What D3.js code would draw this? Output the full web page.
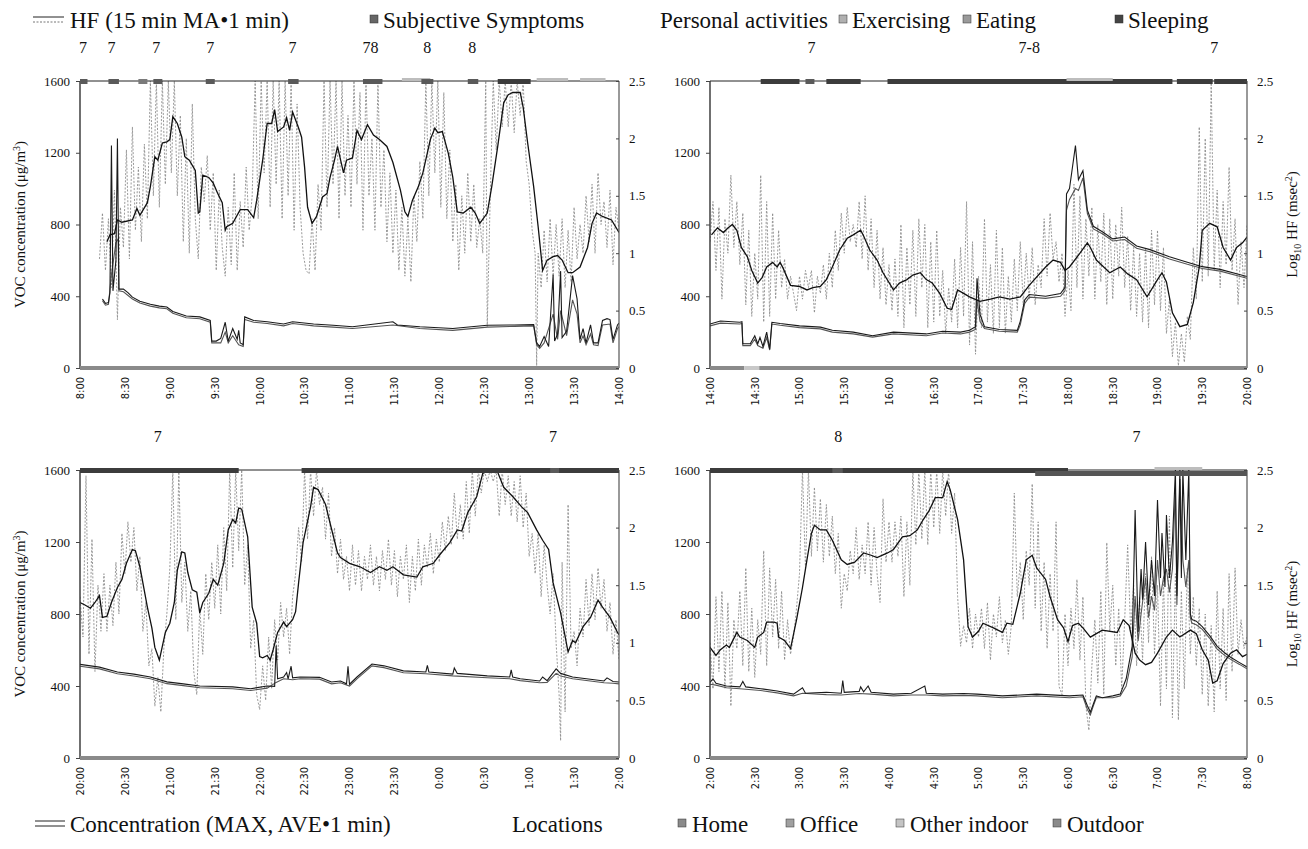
<!DOCTYPE html>
<html>
<head>
<meta charset="utf-8">
<script src="https://cdn.jsdelivr.net/npm/d3@7"></script>
<style>
  body { margin: 0; background: #fff; }
  svg { display: block; }
  text { font-family: "Liberation Serif", "Times New Roman", serif; fill: #111; }
  .xt { font-family: "DejaVu Sans Condensed", "DejaVu Sans", sans-serif; font-size: 11px; }
</style>
</head>
<body>
<div id="chart"></div>
<script>
// ---- tick labels ----
const ticks_p1 = ['8:00','8:30','9:00','9:30','10:00','10:30','11:00','11:30','12:00','12:30','13:00','13:30','14:00']
const ticks_p2 = ['14:00','14:30','15:00','15:30','16:00','16:30','17:00','17:30','18:00','18:30','19:00','19:30','20:00']
const ticks_p3 = ['20:00','20:30','21:00','21:30','22:00','22:30','23:00','23:30','0:00','0:30','1:00','1:30','2:00']
const ticks_p4 = ['2:00','2:30','3:00','3:30','4:00','4:30','5:00','5:30','6:00','6:30','7:00','7:30','8:00']
const concTicks = [0, 400, 800, 1200, 1600]
const hfTicks = [0, 0.5, 1, 1.5, 2, 2.5]

// ---- panel 1 (8:00-14:00), time = minutes from panel start ----
const hfMA_p1 = [[18,1.10],[20,1.16],[23,1.17],[25,1.29],[28,1.27],[35,1.29],[38,1.39],[40,1.33],[45,1.44],[47,1.58],[50,1.84],[52,1.81],[55,1.96],[58,1.97],[60,1.99],[62,2.19],[65,2.13],[68,2.01],[70,1.84],[73,1.81],[77,1.72],[79,1.35],[80,1.36],[82,1.68],[86,1.66],[89,1.61],[92,1.52],[95,1.44],[97,1.20],[98,1.23],[102,1.26],[107,1.38],[112,1.38],[116,1.31],[118,1.46],[122,1.81],[125,2.13],[128,2.13],[130,2.25],[132,2.06],[136,2.10],[138,2.18],[140,2.07],[142,2.23],[146,2.09],[148,2.01],[150,1.75],[152,1.40],[155,1.26],[158,1.32],[162,1.49],[165,1.52],[167,1.66],[170,1.81],[172,1.93],[176,1.70],[178,1.81],[182,1.83],[185,2.07],[188,1.99],[192,2.12],[196,2.03],[200,1.99],[205,1.93],[209,1.79],[214,1.55],[217,1.36],[219,1.32],[222,1.46],[226,1.58],[229,1.70],[234,1.99],[237,2.09],[239,2.05],[242,2.06],[246,1.87],[249,1.66],[252,1.36],[256,1.35],[261,1.40],[264,1.35],[267,1.26],[272,1.35],[275,1.58],[279,1.93],[283,2.31],[286,2.38],[289,2.40],[294,2.40],[296,2.27],[299,1.96],[303,1.58],[306,1.23],[309,0.85],[312,0.94],[316,0.97],[319,0.98],[322,0.94],[326,0.83],[329,0.83],[334,0.88],[339,1.05],[342,1.26],[345,1.35],[349,1.32],[355,1.29],[360,1.18]]
const hf1_p1 = [[13,0.95],[15,1.35],[17,0.85],[19,1.30],[21,0.70],[23,1.55],[25,0.42],[27,1.40],[29,1.05],[31,1.90],[33,0.95],[35,2.10],[37,1.20],[39,1.75],[41,1.10],[43,1.95],[45,1.30],[47,2.50],[49,1.50],[51,2.50],[53,1.40],[55,2.50],[57,1.60],[59,2.50],[61,1.70],[63,2.50],[65,1.50],[67,2.20],[69,1.10],[71,2.00],[73,1.00],[75,2.30],[77,1.30],[79,0.95],[81,1.75],[83,1.45],[85,1.85],[87,1.20],[89,1.70],[91,0.85],[93,1.55],[95,1.05],[97,0.80],[99,1.40],[101,0.90],[103,1.70],[105,0.85],[107,1.45],[109,1.05],[111,1.75],[113,1.20],[115,1.50],[117,2.50],[119,1.30],[121,2.50],[123,1.70],[125,2.50],[127,1.40],[129,2.50],[131,1.60],[133,2.50],[135,1.30],[137,2.50],[139,1.50],[141,2.50],[143,1.20],[145,2.30],[147,1.40],[149,1.00],[151,0.85],[153,0.82],[155,1.30],[157,0.85],[159,1.60],[161,1.20],[163,2.50],[165,1.40],[167,2.50],[169,1.60],[171,2.50],[173,1.30],[175,2.50],[177,1.50],[179,2.20],[181,1.40],[183,2.50],[185,1.60],[187,2.40],[189,1.20],[191,2.50],[193,1.50],[195,2.00],[197,1.20],[199,2.50],[201,1.40],[203,1.90],[205,1.10],[207,1.70],[209,1.00],[211,1.55],[213,0.85],[215,1.40],[217,0.80],[219,1.30],[221,0.75],[223,1.50],[225,1.10],[227,1.80],[229,1.30],[231,2.50],[233,1.50],[235,2.50],[237,1.70],[239,2.50],[241,1.40],[243,2.40],[245,1.30],[247,1.90],[249,1.10],[251,1.60],[253,0.85],[255,1.50],[257,1.00],[259,1.70],[261,1.10],[263,1.60],[265,1.05],[267,1.30],[269,1.00],[271,2.50],[272,0.36],[274,1.50],[276,2.50],[278,1.90],[280,2.50],[282,2.10],[284,2.50],[286,2.10],[288,2.50],[290,2.05],[292,2.50],[294,2.20],[296,2.50],[298,1.80],[300,1.60],[302,1.20],[304,1.00],[305,0.02],[306,1.00],[308,0.70],[310,1.20],[312,0.75],[314,1.30],[316,0.80],[318,1.25],[320,0.80],[322,1.30],[324,0.70],[326,1.20],[328,0.75],[330,1.40],[332,0.95],[334,1.25],[336,1.00],[338,1.50],[340,1.10],[342,1.60],[344,1.00],[346,1.70],[348,1.25],[350,1.45],[352,1.05],[354,1.55],[356,0.90],[358,1.40],[360,1.20]]
const concMax_p1 = [[15,385],[17,360],[19,365],[20,420],[21,1240],[22,430],[24,600],[25,1280],[26,440],[29,440],[32,420],[35,395],[40,372],[47,355],[53,345],[58,340],[62,315],[71,290],[80,285],[87,265],[88,150],[91,150],[94,165],[97,255],[99,150],[102,220],[105,160],[106,210],[107,140],[109,130],[110,285],[116,265],[125,258],[136,245],[142,258],[156,245],[169,238],[182,230],[209,258],[212,240],[227,230],[249,220],[272,238],[290,240],[303,242],[305,140],[307,120],[310,175],[313,120],[316,520],[317,150],[319,190],[321,540],[322,170],[325,205],[329,515],[332,385],[334,160],[336,220],[338,140],[341,240],[343,140],[346,140],[349,265],[352,275],[354,270],[356,160],[359,240],[360,250]]
const concAve_p1 = [[15,375],[17,350],[19,355],[21,520],[24,700],[25.5,720],[26,430],[29,425],[35,385],[40,362],[47,345],[53,335],[58,330],[62,305],[71,280],[80,275],[87,255],[88,140],[94,140],[97,200],[99,140],[102,180],[106,130],[109,120],[110,270],[116,255],[125,248],[136,235],[142,248],[156,235],[169,228],[182,220],[209,240],[227,220],[249,210],[272,228],[290,232],[303,235],[305,130],[307,110],[310,140],[316,300],[319,160],[321,320],[325,180],[329,380],[332,300],[334,140],[336,180],[338,130],[341,190],[343,130],[346,125],[349,240],[354,245],[356,140],[359,220],[360,230]]
const acts_p1 = [[0,5,'symptom'],[19,26,'symptom'],[39,45,'eating'],[49,55,'symptom'],[84,90,'symptom'],[139,146,'symptom'],[189,202,'symptom'],[215,234,'exercise'],[228,236,'symptom'],[259,266,'symptom'],[279,301,'sleep'],[305,326,'exercise'],[334,351,'exercise']]
const sym_p1 = [[2,'7'],[21,'7'],[51,'7'],[87,'7'],[142,'7'],[194,'78'],[232,'8'],[262,'8']]
const loc_p1 = [[0,360,'home']]

// ---- panel 2 (14:00-20:00) ----
const hfMA_p2 = [[1,1.16],[5,1.22],[9,1.18],[12,1.22],[15,1.25],[18,1.20],[21,1.05],[25,0.97],[28,0.85],[32,0.74],[35,0.79],[38,0.88],[42,0.92],[45,0.88],[47,0.92],[49,0.87],[54,0.72],[60,0.71],[65,0.68],[69,0.70],[74,0.71],[78,0.77],[82,0.88],[87,1.03],[92,1.13],[96,1.16],[101,1.20],[103,1.15],[107,1.03],[112,0.94],[116,0.83],[123,0.68],[127,0.74],[132,0.77],[136,0.81],[141,0.83],[145,0.77],[149,0.74],[154,0.65],[159,0.52],[162,0.51],[166,0.68],[170,0.65],[174,0.62],[181,0.58],[188,0.60],[194,0.62],[201,0.60],[208,0.62],[214,0.72],[225,0.88],[230,0.94],[235,0.92],[238,0.85],[241,0.88],[248,1.00],[253,1.09],[255,1.05],[259,0.94],[268,0.83],[275,0.88],[280,0.82],[286,0.77],[293,0.62],[300,0.77],[303,0.83],[306,0.75],[310,0.48],[315,0.36],[320,0.38],[324,0.57],[328,0.88],[330,1.20],[335,1.26],[340,1.23],[344,1.05],[349,0.94],[353,1.05],[357,1.09],[360,1.14]]
const hf1_p2 = [[0,1.10],[2,1.45],[4,0.85],[6,1.40],[8,0.60],[10,1.30],[12,1.00],[14,1.68],[16,1.05],[18,1.45],[20,0.90],[22,1.35],[24,0.55],[26,1.20],[28,0.45],[30,1.00],[32,0.60],[34,1.68],[36,0.40],[38,1.45],[40,0.45],[42,1.35],[44,0.60],[46,1.20],[48,0.70],[50,0.95],[52,0.60],[54,0.80],[56,0.65],[58,0.50],[60,0.80],[62,0.60],[64,0.85],[66,0.70],[68,0.85],[70,0.48],[72,0.80],[74,0.65],[76,0.90],[78,0.60],[80,1.00],[82,0.70],[84,1.20],[86,0.85],[88,1.35],[90,1.00],[92,1.40],[94,1.10],[96,1.25],[98,1.05],[100,1.45],[102,0.95],[104,1.50],[106,0.85],[108,1.30],[110,0.70],[112,1.20],[114,0.60],[116,1.05],[118,0.55],[120,0.90],[122,0.50],[124,0.95],[126,0.45],[128,1.25],[130,0.35],[132,1.05],[134,0.55],[136,1.20],[138,0.45],[140,1.30],[142,0.70],[144,1.25],[146,0.35],[148,1.10],[150,0.40],[152,1.20],[154,0.45],[156,0.85],[158,0.30],[160,0.70],[162,0.40],[164,0.95],[166,0.35],[168,1.05],[170,0.45],[172,1.45],[174,0.20],[176,1.10],[178,0.12],[180,0.80],[182,0.35],[184,1.30],[186,0.40],[188,0.90],[190,0.30],[192,1.20],[194,0.35],[196,1.05],[198,0.30],[200,0.80],[202,0.40],[204,0.95],[206,0.50],[208,1.10],[210,0.55],[212,1.00],[214,0.60],[216,1.05],[218,0.55],[220,0.90],[222,0.70],[224,1.30],[226,0.80],[228,1.35],[230,0.95],[232,1.10],[234,0.75],[236,1.00],[238,0.45],[240,0.85],[242,0.50],[244,1.60],[246,0.70],[248,1.50],[250,0.60],[252,1.30],[254,0.80],[256,1.40],[258,0.60],[260,1.25],[262,0.75],[264,1.35],[266,0.55],[268,1.30],[270,0.60],[272,1.25],[274,0.80],[276,1.40],[278,0.70],[280,1.15],[282,0.50],[284,1.05],[286,0.45],[288,1.00],[290,0.40],[292,1.05],[294,0.35],[296,1.20],[298,0.55],[300,1.20],[302,0.50],[304,1.05],[306,0.30],[308,0.60],[310,0.10],[312,0.40],[314,0.02],[316,0.30],[318,0.05],[320,0.45],[322,0.25],[324,1.05],[326,0.60],[328,2.10],[330,0.75],[332,2.00],[334,0.80],[336,2.50],[338,0.85],[340,1.55],[342,0.70],[344,1.45],[346,0.90],[348,1.75],[350,0.85],[352,1.30],[354,0.55],[356,1.10],[358,0.70],[360,1.25]]
const concMax_p2 = [[0,245],[7,262],[20,255],[21.4,258],[22,135],[27,135],[30,180],[32,135],[33.5,170],[35.5,120],[38,200],[40,105],[41.5,255],[47,248],[60,235],[74,228],[82,210],[96,200],[109,180],[123,200],[145,190],[156,205],[168,200],[174,210],[178,230],[179,500],[181,300],[184,230],[194,215],[206,210],[208,260],[211,380],[214,410],[225,400],[235,415],[238,450],[239,970],[241,1000],[245,1240],[247,1050],[250,1100],[253,880],[257,790],[263,760],[270,720],[278,730],[286,680],[295,660],[308,620],[320,590],[330,565],[342,550],[360,510]]
const concAve_p2 = [[0,235],[7,250],[20,245],[21.4,248],[22,125],[27,125],[30,160],[32,125],[35.5,110],[38,170],[40,100],[41.5,245],[47,238],[60,225],[74,218],[82,200],[96,190],[109,172],[123,190],[145,180],[156,195],[168,190],[174,200],[178,215],[179,380],[181,260],[184,220],[194,205],[206,200],[208,240],[211,360],[214,395],[225,388],[235,400],[238,430],[239,880],[241,940],[245,1000],[247,990],[250,1060],[253,860],[257,775],[263,748],[270,708],[278,716],[286,668],[295,648],[308,608],[320,578],[330,555],[342,540],[360,500]]
const acts_p2 = [[34,60,'sleep'],[64,70,'symptom'],[78,101,'sleep'],[119,310,'sleep'],[313,337,'sleep'],[338,360,'sleep'],[239,270,'exercise']]
const sym_p2 = [[68,'7'],[214,'7-8'],[338,'7']]
const loc_p2 = [[0,23,'home'],[23,33,'other'],[33,360,'home']]

// ---- panel 3 (20:00-2:00) ----
const hfMA_p3 = [[0,1.35],[3,1.33],[7,1.30],[10,1.35],[13,1.41],[15,1.22],[18,1.23],[21,1.35],[25,1.48],[28,1.55],[31,1.69],[35,1.81],[37,1.80],[40,1.66],[42,1.52],[45,1.31],[48,1.13],[50,0.96],[53,0.85],[57,1.09],[60,1.17],[63,1.35],[65,1.63],[68,1.79],[70,1.78],[72,1.61],[75,1.46],[78,1.44],[80,1.26],[82,1.35],[86,1.43],[89,1.55],[92,1.50],[96,1.69],[99,1.98],[102,2.07],[104,2.04],[106,2.17],[108,2.16],[112,1.92],[115,1.31],[118,1.17],[120,0.88],[122,0.87],[125,0.89],[127,0.85],[129,0.94],[132,1.09],[136,1.18],[138,1.14],[142,1.20],[144,1.27],[146,1.52],[149,1.87],[154,2.18],[156,2.35],[159,2.33],[164,2.20],[167,2.04],[172,1.78],[174,1.74],[180,1.69],[187,1.66],[194,1.61],[200,1.66],[205,1.63],[209,1.66],[216,1.59],[225,1.57],[229,1.66],[236,1.69],[240,1.76],[247,1.87],[252,1.98],[255,1.97],[259,2.13],[265,2.27],[269,2.47],[272,2.49],[279,2.48],[283,2.35],[289,2.27],[295,2.18],[299,2.13],[305,1.98],[309,1.89],[313,1.81],[316,1.52],[321,1.26],[326,0.92],[329,1.02],[331,1.00],[336,1.14],[341,1.22],[346,1.37],[349,1.31],[354,1.22],[359,1.09],[360,1.07]]
const hf1_p3 = [[0,1.40],[2,1.05],[4,2.45],[6,0.90],[8,1.90],[10,0.75],[12,1.50],[14,1.10],[16,1.60],[18,1.10],[20,1.50],[22,1.15],[24,1.70],[26,1.25],[28,1.95],[30,1.60],[32,2.05],[34,1.70],[36,2.00],[38,1.45],[40,1.75],[42,1.10],[44,1.35],[46,0.80],[48,0.95],[50,0.45],[52,0.70],[54,0.40],[56,0.95],[58,1.25],[60,1.65],[62,2.50],[64,1.20],[66,2.50],[68,1.35],[70,1.70],[72,1.10],[74,1.45],[76,0.75],[78,0.55],[80,1.30],[82,0.90],[84,1.60],[86,1.20],[88,1.70],[90,1.30],[92,1.85],[94,1.25],[96,2.00],[98,1.45],[100,2.50],[102,1.65],[104,2.50],[106,1.80],[108,2.50],[110,1.50],[112,1.85],[114,0.95],[116,1.20],[118,0.55],[120,0.42],[122,0.80],[124,0.50],[126,1.05],[128,0.60],[130,1.20],[132,0.85],[134,1.35],[136,1.05],[138,1.30],[140,0.90],[142,1.40],[144,1.60],[146,2.00],[148,1.70],[150,2.50],[152,1.90],[154,2.50],[156,2.10],[158,2.50],[160,2.20],[162,2.35],[164,1.90],[166,2.30],[168,1.75],[170,2.00],[172,1.60],[174,1.90],[176,1.55],[178,1.75],[180,1.45],[182,1.85],[184,1.50],[186,1.80],[188,1.45],[190,1.75],[192,1.55],[194,1.85],[196,1.50],[198,1.75],[200,1.45],[202,1.80],[204,1.55],[206,1.90],[208,1.50],[210,1.80],[212,1.40],[214,1.75],[216,1.55],[218,1.85],[220,1.35],[222,1.75],[224,1.45],[226,1.90],[228,1.50],[230,1.85],[232,1.65],[234,1.95],[236,1.60],[238,1.90],[240,1.70],[242,2.05],[244,1.80],[246,2.10],[248,1.85],[250,2.30],[252,1.90],[254,2.20],[256,1.90],[258,2.40],[260,1.95],[262,2.50],[264,2.10],[266,2.50],[268,2.30],[270,2.50],[272,2.40],[274,2.50],[276,2.40],[278,2.50],[280,2.10],[282,2.50],[284,2.20],[286,2.45],[288,2.10],[290,2.40],[292,2.05],[294,2.45],[296,2.00],[298,2.30],[300,1.75],[302,1.95],[304,1.60],[306,1.95],[308,1.40],[310,1.85],[312,1.50],[314,1.25],[316,1.60],[318,1.00],[320,0.55],[321,0.15],[322,1.70],[324,0.40],[326,2.20],[328,0.95],[330,1.10],[332,0.80],[334,1.30],[336,1.05],[338,1.55],[340,1.15],[342,1.60],[344,1.20],[346,1.65],[348,1.30],[350,1.55],[352,1.10],[354,1.35],[356,0.90],[358,1.20],[360,0.85]]
const concMax_p3 = [[0,520],[13,505],[25,478],[36,466],[47,450],[58,423],[69,412],[80,400],[102,395],[114,385],[125,400],[130,398],[131,625],[132,440],[136,450],[138,475],[139,440],[141,510],[142,445],[147,450],[160,448],[168,422],[174,428],[178,412],[179,510],[180,410],[185,450],[195,522],[203,512],[216,484],[231,478],[232,515],[233,478],[249,466],[250,500],[252,470],[272,456],[287,450],[288,490],[289,450],[294,440],[307,428],[309,450],[312,430],[318,495],[321,470],[329,450],[350,428],[352,445],[356,425],[360,422]]
const concAve_p3 = [[0,510],[13,495],[25,468],[36,456],[47,440],[58,413],[69,402],[80,390],[102,385],[114,375],[125,388],[131,420],[136,440],[142,435],[147,440],[160,438],[168,412],[174,418],[180,400],[185,440],[195,512],[203,502],[216,474],[231,468],[249,456],[272,446],[287,440],[294,430],[307,418],[312,420],[318,470],[321,455],[329,440],[350,418],[356,415],[360,412]]
const acts_p3 = [[0,106,'sleep'],[148,360,'sleep'],[314,320,'symptom']]
const sym_p3 = [[52,'7'],[316,'7']]
const loc_p3 = [[0,360,'home']]

// ---- panel 4 (2:00-8:00) ----
const hfMA_p4 = [[0,0.96],[4,0.89],[7,0.94],[11,0.98],[13,0.96],[18,1.09],[20,1.05],[25,1.02],[30,0.96],[32,1.05],[36,1.09],[38,1.18],[43,1.18],[45,1.17],[46,1.05],[50,1.02],[54,0.95],[58,1.20],[62,1.48],[65,1.72],[68,1.95],[70,2.02],[74,1.98],[78,1.98],[82,1.89],[88,1.72],[92,1.68],[97,1.70],[103,1.78],[108,1.76],[112,1.74],[119,1.78],[123,1.81],[129,1.92],[134,1.93],[139,1.98],[143,2.07],[147,2.15],[151,2.26],[156,2.26],[159,2.40],[161,2.33],[166,2.07],[170,1.72],[173,1.14],[176,1.05],[180,1.10],[183,1.17],[190,1.13],[196,1.09],[199,1.17],[203,1.16],[208,1.43],[212,1.72],[216,1.76],[219,1.65],[225,1.55],[228,1.40],[233,1.20],[237,1.13],[240,1.01],[243,1.15],[247,1.17],[250,1.13],[255,1.05],[259,1.08],[263,1.11],[273,1.09],[277,1.20],[281,1.15],[285,0.91],[288,0.85],[292,0.81],[296,0.83],[300,0.91],[306,1.05],[310,1.11],[315,1.05],[322,1.11],[326,1.08],[330,0.94],[334,0.85],[337,0.65],[340,0.67],[344,0.82],[349,0.91],[353,0.94],[357,0.88],[360,0.90]]
const hf1_p4 = [[0,1.00],[2,0.60],[4,1.40],[6,0.75],[8,1.45],[10,0.60],[12,1.35],[14,0.45],[16,1.20],[18,0.95],[20,1.45],[22,0.80],[24,1.65],[26,0.75],[28,1.30],[30,0.70],[32,1.20],[34,0.90],[36,1.80],[38,0.80],[40,1.65],[42,1.05],[44,1.55],[46,0.95],[48,1.45],[50,0.85],[52,1.20],[54,0.90],[56,1.05],[58,1.30],[60,1.60],[62,2.50],[64,1.65],[66,2.50],[68,1.75],[70,2.35],[72,1.80],[74,2.25],[76,1.70],[78,2.20],[80,1.75],[82,2.10],[84,1.60],[86,1.95],[88,1.30],[90,1.60],[92,1.45],[94,1.80],[96,1.60],[98,2.00],[100,1.55],[102,1.85],[104,1.60],[106,2.05],[108,1.50],[110,2.00],[112,1.60],[114,1.35],[116,2.25],[118,1.70],[120,2.05],[122,1.70],[124,2.05],[126,1.75],[128,2.10],[130,1.40],[132,2.05],[134,1.50],[136,2.50],[138,1.85],[140,2.50],[142,1.90],[144,2.50],[146,1.85],[148,2.50],[150,2.00],[152,2.50],[154,1.95],[156,2.50],[158,2.10],[160,2.50],[162,1.95],[164,2.30],[166,1.40],[168,0.97],[170,1.15],[172,1.00],[174,1.30],[176,0.95],[178,1.25],[180,1.05],[182,1.30],[184,0.95],[186,1.35],[188,0.85],[190,1.25],[192,1.05],[194,1.40],[196,1.00],[198,1.20],[200,0.90],[202,1.15],[204,2.30],[206,1.40],[208,1.70],[210,1.20],[212,1.80],[214,1.50],[216,2.38],[218,1.30],[220,2.05],[222,1.10],[224,1.70],[226,0.95],[228,1.60],[230,1.10],[232,2.05],[234,0.62],[236,0.55],[238,1.25],[240,0.80],[242,1.30],[244,0.95],[246,1.55],[248,0.85],[250,1.40],[252,0.45],[254,0.24],[256,0.80],[258,1.20],[260,0.65],[262,1.45],[264,0.55],[266,1.87],[268,1.10],[270,1.50],[272,0.80],[274,1.30],[276,0.60],[278,1.20],[280,1.85],[282,1.10],[284,1.50],[286,0.80],[288,1.40],[290,0.85],[292,1.60],[294,1.00],[296,1.75],[298,0.90],[300,1.50],[302,0.45],[304,1.55],[306,0.60],[308,2.10],[310,0.35],[312,1.60],[314,0.33],[316,1.45],[318,0.60],[320,1.65],[322,0.90],[324,1.40],[326,0.80],[328,1.30],[330,0.55],[332,1.25],[334,0.45],[336,1.15],[338,0.40],[340,1.45],[342,0.60],[344,1.30],[346,0.50],[348,1.60],[350,0.75],[352,1.65],[354,0.90],[356,1.20],[358,0.95],[360,1.05]]
const concMax_p4 = [[0,420],[2,440],[4,415],[11,400],[20,395],[22,425],[24,395],[34,385],[45,372],[56,355],[62,390],[64,360],[78,365],[88,360],[89,430],[90,365],[100,370],[101,395],[103,368],[106,400],[108,365],[123,355],[135,360],[144,400],[145,360],[156,355],[170,358],[179,355],[196,345],[219,355],[241,345],[250,350],[253,290],[255,255],[257,300],[259,345],[263,335],[270,345],[275,355],[279,440],[283,620],[285,1378],[287,700],[289,1050],[290,880],[292,1200],[294,850],[296,1100],[298,900],[300,1433],[302,1000],[303,1250],[305,950],[306,1350],[308,1000],[310,1200],[312,1600],[313,900],[315,1600],[316,1000],[317,1600],[319,1100],[321,1600],[322,800],[323,770],[326,760],[330,730],[335,680],[340,620],[345,585],[349,560],[355,530],[360,506]]
const concAve_p4 = [[0,410],[4,405],[11,390],[20,385],[34,375],[45,362],[56,345],[62,360],[78,352],[88,350],[100,358],[108,355],[123,345],[135,350],[145,350],[156,345],[170,348],[179,345],[196,335],[219,345],[241,335],[250,340],[253,270],[255,240],[257,290],[259,335],[270,335],[275,345],[279,400],[283,560],[285,900],[287,650],[289,800],[292,1000],[294,780],[296,900],[298,820],[300,1100],[302,900],[304,1000],[306,1050],[308,920],[310,1050],[312,1500],[313,850],[315,1550],[317,1100],[319,950],[321,1100],[322,780],[323,750],[326,740],[330,715],[335,665],[340,605],[345,570],[349,548],[355,520],[360,495]]
const acts_p4 = [[0,240,'sleep'],[218,360,'sleep2'],[82,89,'symptom'],[298,330,'exercise']]
const sym_p4 = [[86,'8'],[286,'7']]
const loc_p4 = [[0,360,'home']]

const width = 1308
const height = 849

const panels = [
  { col: 0, row: 0, ticks: ticks_p1, hf1: hf1_p1, hfMA: hfMA_p1, cMax: concMax_p1, cAve: concAve_p1, acts: acts_p1, sym: sym_p1, locs: loc_p1 },
  { col: 1, row: 0, ticks: ticks_p2, hf1: hf1_p2, hfMA: hfMA_p2, cMax: concMax_p2, cAve: concAve_p2, acts: acts_p2, sym: sym_p2, locs: loc_p2 },
  { col: 0, row: 1, ticks: ticks_p3, hf1: hf1_p3, hfMA: hfMA_p3, cMax: concMax_p3, cAve: concAve_p3, acts: acts_p3, sym: sym_p3, locs: loc_p3 },
  { col: 1, row: 1, ticks: ticks_p4, hf1: hf1_p4, hfMA: hfMA_p4, cMax: concMax_p4, cAve: concAve_p4, acts: acts_p4, sym: sym_p4, locs: loc_p4 }
]
const colX = [[80, 619], [710, 1247]]
const rowY = [[81, 368], [470, 758]]

const actColor = { symptom: '#5a5a5a', eating: '#7a7a7a', sleep: '#3c3c3c', sleep2: '#555', exercise: '#bdbdbd' }
const locColor = { home: '#8a8a8a', office: '#9a9a9a', other: '#c8c8c8', outdoor: '#8a8a8a' }

const svg = d3.select('#chart').append('svg')
  .attr('width', width)
  .attr('height', height)

panels.forEach((p, i) => {
  const [x0, x1] = colX[p.col]
  const [yT, yB] = rowY[p.row]
  const x = d3.scaleLinear().domain([0, 360]).range([x0, x1])
  const yC = d3.scaleLinear().domain([0, 1600]).range([yB, yT])
  const yH = d3.scaleLinear().domain([0, 2.5]).range([yB, yT])

  const g = svg.append('g')

  g.append('clipPath').attr('id', 'clip' + i)
    .append('rect').attr('x', x0).attr('y', yT).attr('width', x1 - x0).attr('height', yB - yT)

  const plot = g.append('g').attr('clip-path', `url(#clip${i})`)

  const lineH = d3.line().x(d => x(d[0])).y(d => yH(d[1]))
  const lineC = d3.line().x(d => x(d[0])).y(d => yC(d[1]))

  // HF 1 min (dashed grey)
  plot.append('path').datum(p.hf1)
    .attr('d', lineH)
    .attr('fill', 'none')
    .attr('stroke', '#8d8d8d')
    .attr('stroke-width', 0.9)
    .attr('stroke-dasharray', '2,1.6')

  // concentration AVE and MAX
  plot.append('path').datum(p.cAve)
    .attr('d', lineC)
    .attr('fill', 'none')
    .attr('stroke', '#555')
    .attr('stroke-width', 1.1)
  plot.append('path').datum(p.cMax)
    .attr('d', lineC)
    .attr('fill', 'none')
    .attr('stroke', '#1a1a1a')
    .attr('stroke-width', 1.1)

  // HF 15 min moving average
  plot.append('path').datum(p.hfMA)
    .attr('d', lineH)
    .attr('fill', 'none')
    .attr('stroke', '#111')
    .attr('stroke-width', 1.3)

  // frame
  g.append('line').attr('x1', x0).attr('x2', x1).attr('y1', yT).attr('y2', yT)
    .attr('stroke', '#222').attr('stroke-width', 1)
  g.append('line').attr('x1', x0).attr('x2', x0).attr('y1', yT).attr('y2', yB)
    .attr('stroke', '#333').attr('stroke-width', 1.4)
  g.append('line').attr('x1', x1).attr('x2', x1).attr('y1', yT).attr('y2', yB)
    .attr('stroke', '#555').attr('stroke-width', 1.2)

  // location strip along the bottom
  g.selectAll('.loc').data(p.locs).join('rect')
    .attr('x', d => x(d[0])).attr('width', d => x(d[1]) - x(d[0]))
    .attr('y', yB - 2).attr('height', 4)
    .attr('fill', d => locColor[d[2]])

  // activity bars along the top
  g.selectAll('.act').data(p.acts).join('rect')
    .attr('x', d => x(d[0])).attr('width', d => x(d[1]) - x(d[0]))
    .attr('y', d => d[2] === 'exercise' ? yT - 3 : (d[2] === 'sleep2' ? yT + 1 : yT - 2))
    .attr('height', d => d[2] === 'exercise' ? 3 : 5)
    .attr('fill', d => actColor[d[2]])

  // symptom scores
  g.selectAll('.sym').data(p.sym).join('text')
    .attr('x', d => x(d[0])).attr('y', yT - 28)
    .attr('text-anchor', 'middle')
    .style('font-size', '16px')
    .text(d => d[1])

  // left axis
  const axL = g.append('g').attr('transform', `translate(${x0},0)`)
    .call(d3.axisLeft(yC).tickValues(concTicks).tickSize(4).tickPadding(6).tickFormat(d3.format('d')))
  axL.select('.domain').remove()
  axL.selectAll('line').attr('stroke', '#444')
  axL.selectAll('text').style('font-size', '13px').style('font-family', '"Liberation Serif", serif')

  // right axis
  const axR = g.append('g').attr('transform', `translate(${x1},0)`)
    .call(d3.axisRight(yH).tickValues(hfTicks).tickSize(-3).tickPadding(10).tickFormat(d => d))
  axR.select('.domain').remove()
  axR.selectAll('line').attr('stroke', '#444')
  axR.selectAll('text').style('font-size', '13px').style('font-family', '"Liberation Serif", serif')

  // x tick labels
  const tv = d3.range(0, 361, 30)
  g.selectAll('.xt').data(tv).join('text')
    .attr('class', 'xt')
    .attr('transform', d => `translate(${x(d)},${yB + 9}) rotate(-90)`)
    .attr('text-anchor', 'end')
    .attr('dy', '0.35em')
    .text((d, k) => p.ticks[k])

  // axis titles
  if (p.col === 0) {
    const t = g.append('text')
      .attr('transform', `translate(25,${(yT + yB) / 2}) rotate(-90)`)
      .attr('text-anchor', 'middle')
      .style('font-size', '15px')
    t.append('tspan').text('VOC concentration (μg/m')
    t.append('tspan').attr('dy', -5).style('font-size', '10px').text('3')
    t.append('tspan').attr('dy', 5).text(')')
  } else {
    const t = g.append('text')
      .attr('transform', `translate(1297,${(yT + yB) / 2}) rotate(-90)`)
      .attr('text-anchor', 'middle')
      .style('font-size', '15px')
    t.append('tspan').text('Log')
    t.append('tspan').attr('dy', 4).style('font-size', '10px').text('10')
    t.append('tspan').attr('dy', -4).text(' HF (msec')
    t.append('tspan').attr('dy', -5).style('font-size', '10px').text('2')
    t.append('tspan').attr('dy', 5).text(')')
  }
})

// ---- legends ----
const topLegend = [
  { x: 383, mark: '#666', label: 'Subjective Symptoms' },
  { x: 852, mark: '#b0b0b0', label: 'Exercising' },
  { x: 976, mark: '#9a9a9a', label: 'Eating' },
  { x: 1128, mark: '#444', label: 'Sleeping' }
]
const bottomLegend = [
  { x: 692, mark: '#8a8a8a', label: 'Home' },
  { x: 800, mark: '#a0a0a0', label: 'Office' },
  { x: 910, mark: '#c4c4c4', label: 'Other indoor' },
  { x: 1067, mark: '#8a8a8a', label: 'Outdoor' }
]
const legendFont = '23px'

const legTop = svg.append('g')
legTop.append('line').attr('x1', 33).attr('x2', 64).attr('y1', 17).attr('y2', 17).attr('stroke', '#222').attr('stroke-width', 1)
legTop.append('line').attr('x1', 33).attr('x2', 64).attr('y1', 22).attr('y2', 22).attr('stroke', '#777').attr('stroke-width', 1).attr('stroke-dasharray', '2,1.5')
legTop.append('text').attr('x', 70).attr('y', 28).style('font-size', legendFont).text('HF (15 min MA•1 min)')
legTop.append('text').attr('x', 660).attr('y', 28).style('font-size', legendFont).text('Personal activities')
legTop.selectAll('.lm').data(topLegend).join('rect')
  .attr('x', d => d.x - 13).attr('y', 15).attr('width', 8).attr('height', 8)
  .attr('fill', d => d.mark).attr('stroke', '#333').attr('stroke-width', 0.5)
legTop.selectAll('.lt').data(topLegend).join('text')
  .attr('x', d => d.x).attr('y', 28).style('font-size', legendFont).text(d => d.label)

const legBot = svg.append('g')
legBot.append('line').attr('x1', 35).attr('x2', 65).attr('y1', 821).attr('y2', 821).attr('stroke', '#222').attr('stroke-width', 1)
legBot.append('line').attr('x1', 35).attr('x2', 65).attr('y1', 826).attr('y2', 826).attr('stroke', '#222').attr('stroke-width', 1)
legBot.append('text').attr('x', 70).attr('y', 832).style('font-size', legendFont).text('Concentration (MAX, AVE•1 min)')
legBot.append('text').attr('x', 512).attr('y', 832).style('font-size', legendFont).text('Locations')
legBot.selectAll('.lm').data(bottomLegend).join('rect')
  .attr('x', d => d.x - 14).attr('y', 819).attr('width', 8).attr('height', 8)
  .attr('fill', d => d.mark).attr('stroke', '#333').attr('stroke-width', 0.5)
legBot.selectAll('.lt').data(bottomLegend).join('text')
  .attr('x', d => d.x).attr('y', 832).style('font-size', legendFont).text(d => d.label)
</script>
</body>
</html>
